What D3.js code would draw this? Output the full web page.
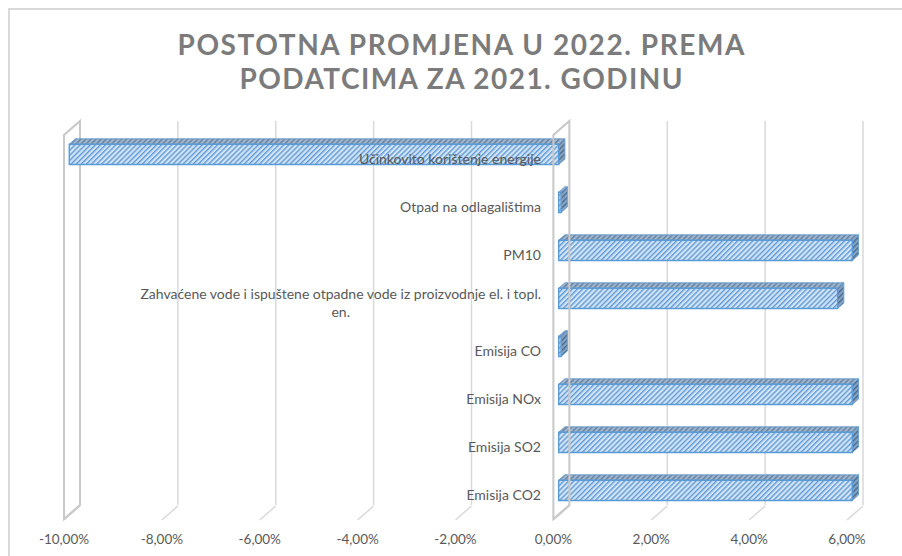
<!DOCTYPE html>
<html>
<head>
<meta charset="utf-8">
<script src="https://cdn.jsdelivr.net/npm/d3@7"></script>
<style>
  body { margin: 0; background: #fff; }
  svg text { font-family: Lato, "Open Sans", sans-serif; }
</style>
</head>
<body>
<div id="chart"></div>
<script>
    // Data
    var titleLines = ["POSTOTNA PROMJENA U 2022. PREMA", "PODATCIMA ZA 2021. GODINU"];
    var categories = [
        "Učinkovito korištenje energije",
        "Otpad na odlagalištima",
        "PM10",
        "Zahvaćene vode i ispuštene otpadne vode iz proizvodnje el. i topl. en.",
        "Emisija CO",
        "Emisija NOx",
        "Emisija SO2",
        "Emisija CO2"
    ];
    var values = [-10.0, 0.05, 6.0, 5.7, 0.05, 6.0, 6.0, 6.0];
    var tickValues = [-10, -8, -6, -4, -2, 0, 2, 4, 6];

    var width = 902, height = 556;
    var DX = 16, DY = -14;       // depth offset of the back wall
    var z0 = 0.33, z1 = 0.72;    // bar front / back depth

    var svg = d3.select("#chart").append("svg")
        .attr("width", width)
        .attr("height", height);

    // chart border
    svg.append("rect")
        .attr("x", 9).attr("y", 9)
        .attr("width", width).attr("height", height)
        .attr("fill", "none")
        .attr("stroke", "#d9d9d9")
        .attr("stroke-width", 2);

    // hatch patterns
    var defs = svg.append("defs");
    function hatch(id, bg, fg) {
        var p = defs.append("pattern")
            .attr("id", id)
            .attr("patternUnits", "userSpaceOnUse")
            .attr("width", 3.6).attr("height", 3.6)
            .attr("patternTransform", "rotate(45)");
        p.append("rect").attr("width", 3.6).attr("height", 3.6).attr("fill", bg);
        p.append("rect").attr("width", 1.4).attr("height", 3.6).attr("fill", fg);
    }
    hatch("hFront", "#d2e4f5", "#5f9ad6");
    hatch("hTop", "#a3b6ca", "#607f9f");
    hatch("hSide", "#8aa3bd", "#4a6a8e");

    // title
    var title = svg.append("g");
    title.selectAll("text")
        .data(titleLines)
        .enter().append("text")
        .attr("x", 461)
        .attr("y", function(d, i) { return 55 + i * 34; })
        .attr("text-anchor", "middle")
        .attr("font-size", 28)
        .attr("font-weight", "bold")
        .attr("fill", "#7b7b7b")
        .attr("textLength", function(d, i) { return i == 0 ? 567 : 443; })
        .attr("lengthAdjust", "spacing")
        .text(function(d) { return d; });

    // scales
    var x = d3.scaleLinear().domain([-10, 6]).range([64, 847]);
    var y = d3.scaleBand().domain(categories).range([135, 519])
        .paddingInner(0.58).paddingOuter(0.29);
    var bw = y.bandwidth();
    var yTop = 135, yBot = 519;

    function P(v, yy, z) { return [x(v) + DX * z, yy + DY * z]; }
    var line = d3.line();

    // back wall gridlines + floor diagonals
    var grid = svg.append("g");
    tickValues.forEach(function(t) {
        if (t != -10 && t != 0) {
            grid.append("line")
                .attr("x1", x(t) + DX).attr("x2", x(t) + DX)
                .attr("y1", yTop + DY).attr("y2", yBot + DY)
                .attr("stroke", "#d9d9d9").attr("stroke-width", 1.5);
        }
        grid.append("line")
            .attr("x1", x(t)).attr("y1", yBot + 1)
            .attr("x2", x(t) + DX).attr("y2", yBot + DY + 1)
            .attr("stroke", "#d9d9d9").attr("stroke-width", 1.5);
    });

    function plane(v) {
        svg.append("path")
            .attr("d", line([P(v, yTop, 0), P(v, yBot, 0), P(v, yBot, 1), P(v, yTop, 1)]) + "Z")
            .attr("fill", "none")
            .attr("stroke", "#c8c8c8")
            .attr("stroke-width", 2);
    }
    plane(-10);

    // bars
    var bars = svg.append("g");
    categories.forEach(function(c, i) {
        var v = values[i];
        var a = Math.min(0, v), b = Math.max(0, v);
        var yt = y(c), yb = y(c) + bw;
        bars.append("path")
            .attr("d", line([P(a, yt, z0), P(b, yt, z0), P(b, yt, z1), P(a, yt, z1)]) + "Z")
            .attr("fill", "url(#hTop)")
            .attr("stroke", "#6a9fd3").attr("stroke-width", 1);
        bars.append("path")
            .attr("d", line([P(b, yt, z0), P(b, yt, z1), P(b, yb, z1), P(b, yb, z0)]) + "Z")
            .attr("fill", "url(#hSide)")
            .attr("stroke", "#6a9fd3").attr("stroke-width", 1);
        bars.append("path")
            .attr("d", line([P(a, yt, z0), P(b, yt, z0), P(b, yb, z0), P(a, yb, z0)]) + "Z")
            .attr("fill", "url(#hFront)")
            .attr("stroke", "#5b9bd5").attr("stroke-width", 1.4);
    });

    plane(0);

    // category labels (wrapped + centered like the original)
    var labelRight = 541, maxW = 410, lh = 18;
    var labels = svg.append("g");
    categories.forEach(function(c) {
        var cy = y(c) + bw / 2;
        var t = labels.append("text")
            .attr("font-size", 14)
            .attr("fill", "#595959")
            .attr("text-anchor", "middle");
        var words = c.split(" "), lines = [], cur = [];
        var probe = t.append("tspan");
        words.forEach(function(w) {
            cur.push(w);
            probe.text(cur.join(" "));
            if (probe.node().getComputedTextLength() > maxW && cur.length > 1) {
                cur.pop();
                lines.push(cur.join(" "));
                cur = [w];
            }
        });
        lines.push(cur.join(" "));
        probe.remove();
        var widths = lines.map(function(l) {
            var s = t.append("tspan").text(l);
            var wv = s.node().getComputedTextLength();
            s.remove();
            return wv;
        });
        var blockW = d3.max(widths);
        var cx = labelRight - blockW / 2;
        lines.forEach(function(l, k) {
            t.append("tspan")
                .attr("x", cx)
                .attr("y", cy + 5 + (k - (lines.length - 1) / 2) * lh)
                .text(l);
        });
    });

    // value axis tick labels
    var loc = d3.formatLocale({ decimal: ",", thousands: ".", grouping: [3], currency: ["", "%"], minus: "-" });
    var fmt = loc.format(".2f");
    svg.append("g").selectAll("text")
        .data(tickValues)
        .enter().append("text")
        .attr("x", function(d) { return x(d); })
        .attr("y", 544)
        .attr("text-anchor", "middle")
        .attr("font-size", 13.5)
        .attr("fill", "#595959")
        .text(function(d) { return fmt(d) + "%"; });
</script>
</body>
</html>
